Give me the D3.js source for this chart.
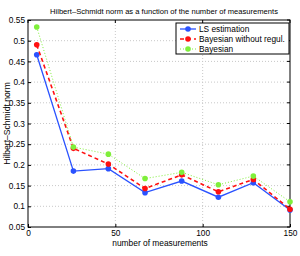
<!DOCTYPE html>
<html>
<head>
<meta charset="utf-8">
<script src="https://cdn.jsdelivr.net/npm/d3@7"></script>
<style>
  body { margin: 0; background: #fff; }
  svg { font-family: "Liberation Sans", Arial, sans-serif; }
</style>
</head>
<body>
<script>
const measurements = [5, 26, 46, 67, 88, 109, 129, 150];
const lsEstimation = [0.466, 0.185, 0.191, 0.133, 0.161, 0.122, 0.157, 0.091];
const bayesNoRegul = [0.490, 0.240, 0.202, 0.143, 0.176, 0.135, 0.165, 0.093];
const bayesian = [0.533, 0.243, 0.226, 0.167, 0.182, 0.152, 0.173, 0.111];
const xTicks = [0, 50, 100, 150];
const yTicks = [0.05, 0.1, 0.15, 0.2, 0.25, 0.3, 0.35, 0.4, 0.45, 0.5, 0.55];

const series = [
  { name: 'LS estimation', values: lsEstimation, color: '#2a52ff', dash: null, width: 1.3 },
  { name: 'Bayesian without regul.', values: bayesNoRegul, color: '#ff1010', dash: '4,3', width: 1.6 },
  { name: 'Bayesian', values: bayesian, color: '#7fef3a', dash: '1,2', width: 1 }
];

const width = 300, height = 256;
const margin = { top: 20, right: 10, bottom: 29, left: 28 };

const svg = d3.select('body').append('svg')
  .attr('width', width)
  .attr('height', height);

const x = d3.scaleLinear().domain([0, 150]).range([margin.left, width - margin.right]);
const y = d3.scaleLinear().domain([0.05, 0.55]).range([height - margin.bottom, margin.top]);

// grid
svg.append('g').selectAll('line')
  .data(xTicks.slice(1, -1))
  .enter().append('line')
  .attr('x1', (d) => x(d)).attr('x2', (d) => x(d))
  .attr('y1', y(0.05)).attr('y2', y(0.55))
  .attr('stroke', '#c8c8c8').attr('stroke-dasharray', '1,2');

svg.append('g').selectAll('line')
  .data(yTicks.slice(1, -1))
  .enter().append('line')
  .attr('x1', x(0)).attr('x2', x(150))
  .attr('y1', (d) => y(d)).attr('y2', (d) => y(d))
  .attr('stroke', '#c8c8c8').attr('stroke-dasharray', '1,2');

// axes (ticks inside, matlab style)
const xAxis = d3.axisBottom(x).tickValues(xTicks).tickSize(-3).tickPadding(3).tickFormat(d3.format('d'));
const yAxis = d3.axisLeft(y).tickValues(yTicks).tickSize(-3).tickPadding(3).tickFormat((d) => String(+d.toFixed(2)));

const gx = svg.append('g')
  .attr('transform', 'translate(0,' + y(0.05) + ')')
  .call(xAxis);
const gy = svg.append('g')
  .attr('transform', 'translate(' + x(0) + ',0)')
  .call(yAxis);

[gx, gy].forEach((g) => {
  g.select('.domain').remove();
  g.selectAll('text').attr('font-size', 8.3).attr('fill', '#000')
    .style('font-family', '"Liberation Sans", Arial, sans-serif');
  g.selectAll('line').attr('stroke', '#000');
});

// opposite side ticks
svg.append('g').selectAll('line')
  .data(yTicks)
  .enter().append('line')
  .attr('x1', x(150)).attr('x2', x(150) - 3)
  .attr('y1', (d) => y(d)).attr('y2', (d) => y(d))
  .attr('stroke', '#000');
svg.append('g').selectAll('line')
  .data(xTicks)
  .enter().append('line')
  .attr('x1', (d) => x(d)).attr('x2', (d) => x(d))
  .attr('y1', y(0.55)).attr('y2', y(0.55) + 3)
  .attr('stroke', '#000');

// frame
svg.append('rect')
  .attr('x', x(0)).attr('y', y(0.55))
  .attr('width', x(150) - x(0)).attr('height', y(0.05) - y(0.55))
  .attr('fill', 'none').attr('stroke', '#000').attr('stroke-width', 1);

// lines and markers
const line = d3.line()
  .x((d, i) => x(measurements[i]))
  .y((d) => y(d));

series.forEach((s) => {
  svg.append('path')
    .datum(s.values)
    .attr('d', line)
    .attr('fill', 'none')
    .attr('stroke', s.color)
    .attr('stroke-width', s.width)
    .attr('stroke-dasharray', s.dash);
  svg.append('g').selectAll('circle')
    .data(s.values)
    .enter().append('circle')
    .attr('cx', (d, i) => x(measurements[i]))
    .attr('cy', (d) => y(d))
    .attr('r', 2.8)
    .attr('fill', s.color);
});

// legend
const legend = svg.append('g').attr('transform', 'translate(176,23)');
legend.append('rect')
  .attr('width', 113).attr('height', 31)
  .attr('fill', '#fff').attr('stroke', '#000').attr('stroke-width', 1);
series.forEach((s, i) => {
  const ly = 6 + i * 10;
  legend.append('line')
    .attr('x1', 4).attr('x2', 20).attr('y1', ly).attr('y2', ly)
    .attr('stroke', s.color).attr('stroke-width', s.width)
    .attr('stroke-dasharray', s.dash);
  legend.append('circle').attr('cx', 12).attr('cy', ly).attr('r', 2.8).attr('fill', s.color);
  legend.append('text')
    .attr('x', 23).attr('y', ly + 3)
    .attr('font-size', 8.3)
    .text(s.name);
});

// title and labels
svg.append('text')
  .attr('x', 164).attr('y', 14)
  .attr('text-anchor', 'middle')
  .attr('font-size', 7.6)
  .text('Hilbert\u2013Schmidt norm as a function of the number of measurements');

svg.append('text')
  .attr('x', 160).attr('y', 246)
  .attr('text-anchor', 'middle')
  .attr('font-size', 8.4)
  .text('number of measurements');

svg.append('text')
  .attr('transform', 'translate(10,' + ((y(0.05) + y(0.55)) / 2) + ') rotate(-90)')
  .attr('text-anchor', 'middle')
  .attr('font-size', 8.6)
  .text('Hilbert\u2013Schmidt norm');
</script>
</body>
</html>
